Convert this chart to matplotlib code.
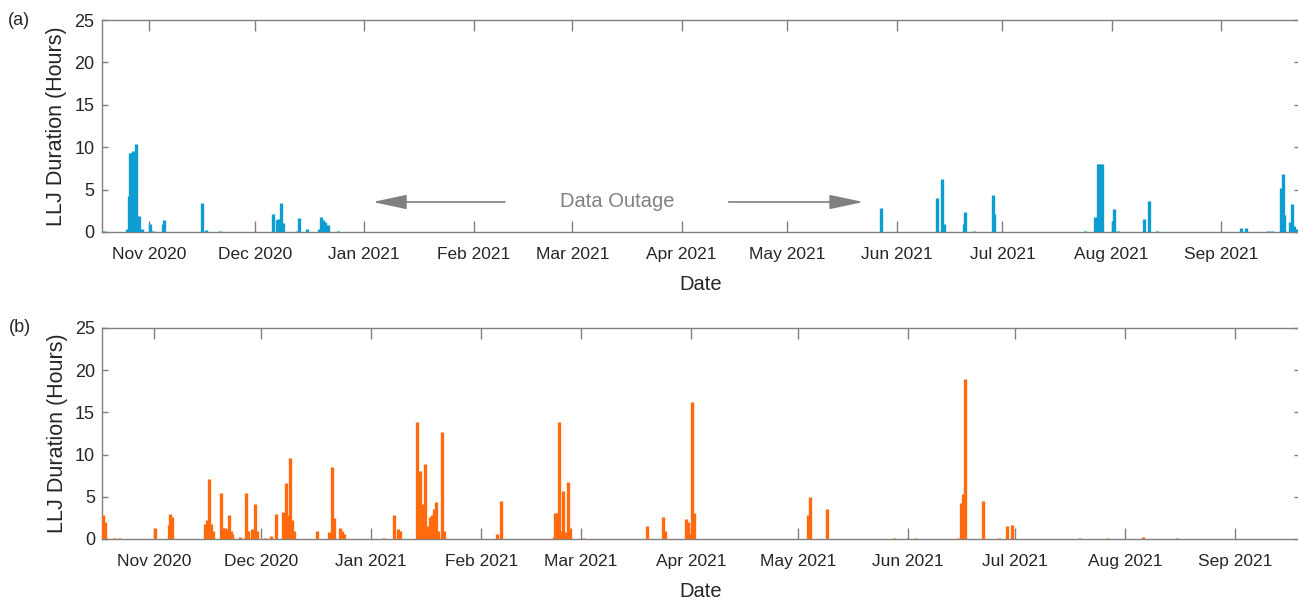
import matplotlib
matplotlib.use('Agg')
import matplotlib.pyplot as plt
import matplotlib.dates as mdates
import numpy as np
import pandas as pd

plt.rcParams['font.family'] = ['Liberation Sans', 'DejaVu Sans']

start = pd.Timestamp('2020-10-01')

# (a) days since 2020-10-01 and LLJ duration (hours)
days_a = [17.9, 24.78, 25.18, 25.55, 25.97, 26.5, 27.17, 28.1, 28.87, 31.36,
          32.07, 34.9, 35.33, 45.88, 47.1, 51.07, 66.02, 67.15, 67.6, 68.37,
          69.03, 72.83, 73.48, 75.83, 79.24, 79.8, 80.37, 80.94, 81.79, 84.62,
          238.45, 254.5, 255.92, 256.4, 261.99, 262.44, 264.91, 270.22, 270.67,
          296.31, 299.32, 300.0, 300.56, 301.13, 304.25, 304.7, 305.84, 313.04,
          314.55, 316.73, 340.64, 342.06, 348.3, 349.43, 351.9, 352.55, 352.92,
          354.54, 355.1, 355.76, 356.44]
hours_a = [0.1, 0.35, 4.3, 9.3, 9.35, 9.5, 10.4, 1.9, 0.3, 1.0,
           0.1, 1.0, 1.4, 3.45, 0.2, 0.15, 2.1, 1.4, 1.5, 3.45,
           1.1, 0.1, 1.7, 0.4, 0.4, 1.8, 1.4, 1.2, 0.8, 0.1,
           2.8, 4.0, 6.3, 1.0, 1.0, 2.3, 0.1, 4.35, 2.1,
           0.1, 1.8, 8.0, 8.0, 8.0, 1.3, 2.7, 0.1, 1.5,
           3.65, 0.1, 0.5, 0.5, 0.1, 0.1, 5.15, 6.85, 2.0,
           1.2, 3.3, 0.7, 0.3]

# (b)
days_b = [16.47, 17.12, 19.65, 21.14, 31.27, 35.12, 35.49, 35.97, 45.25, 45.73,
          46.29, 46.85, 47.41, 49.75, 50.23, 50.79, 51.35, 51.91, 52.48, 52.93,
          55.18, 56.87, 57.34, 58.38, 59.31, 59.79, 62.04, 63.81, 65.14, 67.27,
          67.95, 68.51, 69.16, 69.72, 70.2, 76.84, 80.21, 81.06, 81.62, 83.22,
          83.78, 84.35, 95.6, 98.5, 99.62, 100.18, 104.8, 105.73, 106.29, 107.13,
          107.89, 108.45, 109.1, 109.66, 110.23, 110.79, 111.83, 112.56, 127.3, 128.43,
          143.42, 143.7, 144.18, 144.83, 145.3, 145.87, 146.51, 147.36, 147.92, 151.49,
          169.5, 174.17, 174.73, 180.55, 181.11, 181.68, 182.24, 182.89, 214.95, 215.34,
          220.13, 239.14, 243.08, 245.05, 256.98, 257.99, 258.47, 259.12, 264.1, 268.68,
          270.93, 272.25, 291.38, 299.06, 309.19, 318.75]
hours_b = [2.85, 2.05, 0.1, 0.1, 1.35, 1.65, 3.0, 2.65, 1.8, 2.25,
           7.05, 1.8, 0.9, 5.4, 1.35, 1.3, 1.15, 2.85, 1.0, 0.6,
           0.2, 5.4, 1.0, 1.2, 4.2, 1.0, 0.1, 0.3, 3.0, 3.25,
           6.6, 2.85, 9.55, 2.3, 1.0, 0.9, 0.8, 8.55, 2.45, 1.35,
           1.0, 0.6, 0.1, 2.85, 1.2, 0.9, 13.9, 8.1, 4.2, 8.9,
           1.5, 2.6, 2.9, 3.6, 4.35, 1.0, 12.7, 1.0, 0.6, 4.55,
           0.2, 3.05, 3.05, 13.8, 1.0, 5.7, 0.8, 6.7, 1.35, 0.1,
           1.55, 2.55, 1.0, 2.35, 2.0, 0.6, 16.25, 3.05, 2.85, 5.0,
           3.5, 0.1, 0.1, 0.1, 0.1, 4.3, 5.35, 19.0, 4.55, 0.1,
           1.55, 1.65, 0.1, 0.1, 0.2, 0.1]

xlim_a = (17.47, 357.4)
xlim_b = (16.27, 353.3)

blue = '#0E9DD0'
orange = '#FF6A0E'
axcol = '#808080'
txtcol = '#262626'

fig = plt.figure(figsize=(12.98, 5.99), dpi=100)
ax1 = fig.add_axes([0.0782, 0.6127, 0.9233, 0.3539])
ax2 = fig.add_axes([0.0786, 0.1002, 0.9230, 0.3523])


def to_dates(d):
    return start + pd.to_timedelta(np.array(d), unit='D')


for ax, d, h, c, lim, tag in [(ax1, days_a, hours_a, blue, xlim_a, '(a)'),
                              (ax2, days_b, hours_b, orange, xlim_b, '(b)')]:
    ax.vlines(to_dates(d), 0, h, color=c, lw=2.4, zorder=3)
    ax.set_xlim(to_dates([lim[0]])[0], to_dates([lim[1]])[0])
    ax.set_ylim(0, 25)
    ax.set_yticks([0, 5, 10, 15, 20, 25])
    ax.xaxis.set_major_locator(mdates.MonthLocator())
    ax.xaxis.set_major_formatter(mdates.DateFormatter('%b %Y'))
    for s in ax.spines.values():
        s.set_color(axcol)
        s.set_linewidth(1.0)
    ax.tick_params(axis='x', direction='in', length=8, width=1.0, color=axcol,
                   top=True, labelsize=12.5, labelcolor=txtcol, pad=11)
    ax.tick_params(axis='y', direction='in', length=4.5, width=1.0, color=axcol,
                   right=True, labelsize=13, labelcolor=txtcol, pad=5)
    ax.set_ylabel('LLJ Duration (Hours)', fontsize=15.5, color=txtcol, labelpad=5)
    ax.set_xlabel('Date', fontsize=14.5, color=txtcol, labelpad=9)
    ax.text(-0.078, 1.0, tag, transform=ax.transAxes, fontsize=13,
            color=txtcol, ha='left', va='center')

# data outage annotation
arrow = dict(arrowstyle='-|>,head_length=1.5,head_width=0.32',
             color='#808080', lw=1.2, mutation_scale=14)
ax1.annotate('', xy=(0.224, 0.1415), xytext=(0.339, 0.1415),
             xycoords='axes fraction', arrowprops=arrow)
ax1.annotate('', xy=(0.638, 0.1415), xytext=(0.521, 0.1415),
             xycoords='axes fraction', arrowprops=arrow)
ax1.text(0.430, 0.1415, 'Data Outage', transform=ax1.transAxes, fontsize=14.5,
         color='#808080', ha='center', va='center')

fig.savefig('out.png', dpi=100)
